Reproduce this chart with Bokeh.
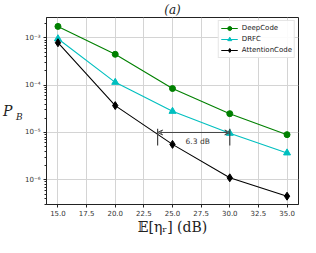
from bokeh.plotting import figure
from bokeh.models import (FixedTicker, CustomJSTickFormatter, Label, Arrow, VeeHead, LogAxis)
from bokeh.embed import file_html
from bokeh.resources import INLINE

# ---- data ----
snr_db = [15, 20, 25, 30, 35]
deepcode = [1.75e-3, 4.5e-4, 8.5e-5, 2.5e-5, 9.0e-6]
drfc = [9.6e-4, 1.15e-4, 2.8e-5, 9.6e-6, 3.7e-6]
attention = [7.9e-4, 3.7e-5, 5.6e-6, 1.1e-6, 4.5e-7]
x_ticks = [15.0, 17.5, 20.0, 22.5, 25.0, 27.5, 30.0, 32.5, 35.0]
y_ticks = [1e-6, 1e-5, 1e-4, 1e-3]
gap_x = [23.7, 30.0]
gap_y = 1e-5
gap_bar = [1.2e-5, 5.3e-6]
gap_text = "6.3 dB"
gap_text_pos = (27.2, 6.6e-6)
title_text = "(a)"
x_label = "\U0001D53C[\u03b7\u1d63] (dB)"

y_minor = [m * t for t in [1e-7] + y_ticks for m in range(2, 10)]

p = figure(width=300, height=237, x_range=(14.0, 36.0), y_range=(3.0e-7, 2.7e-3),
           y_axis_type="log", output_backend="svg", toolbar_location=None,
           min_border_left=35, min_border_right=2, min_border_top=4, min_border_bottom=20)

p.background_fill_color = "white"
p.border_fill_color = "white"
p.outline_line_color = "#222222"
p.outline_line_width = 1

# title
p.title.text = title_text
p.title.align = "center"
p.title.text_font = "DejaVu Serif"
p.title.text_font_style = "italic"
p.title.text_font_size = "12px"
p.title.text_color = "#222222"
p.title.text_line_height = 1.0
p.title.standoff = 1
p.title.offset = 0

# axes
p.xaxis.ticker = FixedTicker(ticks=x_ticks)
p.xaxis.formatter = CustomJSTickFormatter(code="return tick.toFixed(1);")
p.yaxis.ticker = FixedTicker(ticks=y_ticks, minor_ticks=y_minor)
p.yaxis.formatter = CustomJSTickFormatter(code="""
const sup = {'-':'\u207b','0':'\u2070','1':'\u00b9','2':'\u00b2','3':'\u00b3','4':'\u2074','5':'\u2075','6':'\u2076','7':'\u2077','8':'\u2078','9':'\u2079'};
const e = Math.round(Math.log10(tick));
return '10' + String(e).split('').map(c => sup[c]).join('');
""")
for ax in (p.xaxis[0], p.yaxis[0]):
    ax.axis_line_color = "#222222"
    ax.major_tick_line_color = "#222222"
    ax.minor_tick_line_color = "#222222"
    ax.major_tick_out = 3
    ax.major_tick_in = 0
    ax.minor_tick_in = 0
    ax.major_label_text_font = "DejaVu Sans"
    ax.major_label_text_font_size = "7px"
    ax.major_label_text_color = "#333333"
    ax.major_label_standoff = 3
p.xaxis.minor_tick_line_color = None
p.yaxis.minor_tick_out = 2

p.xaxis.axis_label = x_label
p.xaxis.axis_label_text_font = "DejaVu Serif"
p.xaxis.axis_label_text_font_style = "normal"
p.xaxis.axis_label_text_font_size = "14px"
p.xaxis.axis_label_text_color = "#222222"
p.xaxis.axis_label_text_line_height = 0.9
p.xaxis.axis_label_standoff = 0
p.xaxis.major_label_standoff = 2


def label_axis(text, size):
    ax = LogAxis(ticker=FixedTicker(ticks=[]), axis_label=text)
    ax.axis_line_color = None
    ax.major_tick_line_color = None
    ax.minor_tick_line_color = None
    ax.major_label_text_font_size = "0px"
    ax.major_label_standoff = 0
    ax.major_tick_out = 0
    ax.axis_label_standoff = 0
    ax.axis_label_orientation = "horizontal"
    ax.axis_label_text_font = "DejaVu Serif"
    ax.axis_label_text_font_style = "italic"
    ax.axis_label_text_font_size = size
    ax.axis_label_text_color = "#222222"
    return ax


p.add_layout(label_axis(" \nB", "9px"), "left")
p.add_layout(label_axis("P", "14px"), "left")

p.xgrid.ticker = FixedTicker(ticks=x_ticks)
p.ygrid.ticker = FixedTicker(ticks=y_ticks)
p.xgrid.grid_line_color = "#d4d4d4"
p.ygrid.grid_line_color = "#d4d4d4"

# series
p.line(snr_db, deepcode, line_color="#008000", line_width=1.1, legend_label="DeepCode")
p.scatter(snr_db, deepcode, marker="circle", size=6, color="#008000", legend_label="DeepCode")
p.line(snr_db, drfc, line_color="#00bfbf", line_width=1.1, legend_label="DRFC")
p.scatter(snr_db, drfc, marker="triangle", size=7, color="#00bfbf", legend_label="DRFC")
p.line(snr_db, attention, line_color="black", line_width=1.1, legend_label="AttentionCode")
p.scatter(snr_db, attention, marker="diamond", size=8, color="black", legend_label="AttentionCode")

# gap annotation
p.segment(x0=gap_x, y0=[gap_bar[0]] * 2, x1=gap_x, y1=[gap_bar[1]] * 2,
          line_color="#444444", line_width=1.2)
p.add_layout(Arrow(x_start=gap_x[0], y_start=gap_y, x_end=gap_x[1], y_end=gap_y,
                   line_color="#444444", line_width=1,
                   start=VeeHead(size=5, line_color="#444444", line_width=1, fill_color=None),
                   end=VeeHead(size=5, line_color="#444444", line_width=1, fill_color=None)))
p.add_layout(Label(x=gap_text_pos[0], y=gap_text_pos[1], text=gap_text, text_align="center",
                   text_baseline="middle", text_font="DejaVu Sans",
                   text_font_size="7.5px", text_color="#333333"))

# legend
lg = p.legend[0]
lg.location = "top_right"
lg.margin = 3
lg.padding = 2
lg.spacing = 1
lg.glyph_width = 17
lg.glyph_height = 10
lg.label_height = 10
lg.label_standoff = 4
lg.label_text_font = "DejaVu Sans"
lg.label_text_font_size = "7px"
lg.label_text_color = "#222222"
lg.border_line_color = "#cccccc"
lg.border_line_width = 1
lg.background_fill_alpha = 0.9

open("out.html", "w").write(file_html(p, INLINE))
